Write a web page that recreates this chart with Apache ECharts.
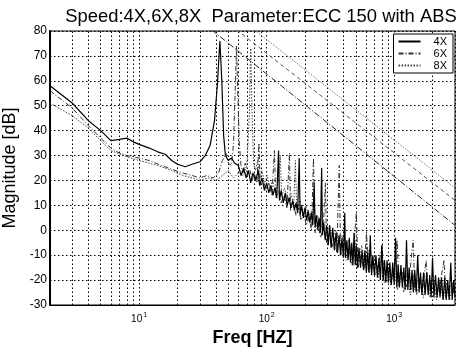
<!DOCTYPE html>
<html>
<head>
<meta charset="utf-8">
<script src="https://cdn.jsdelivr.net/npm/echarts@6/dist/echarts.min.js"></script>
<style>
  html, body { margin: 0; background: #fff; }
  #chart { width: 459px; height: 347px; }
</style>
</head>
<body>
<div id="chart"></div>
<script>
// [freq Hz, magnitude dB]
var spec4X = [
  [2, 58], [3, 51], [4, 44], [5, 40], [6, 36], [7, 36.5], [8, 37], [9, 35.5], [10, 34.5], [12, 33],
  [14, 31.5], [16, 30.5], [18, 28], [20, 26.5], [23, 25.5], [26, 26.5], [30, 27.5], [33, 30], [36, 34],
  [39, 44], [41, 58], [43, 76], [44.5, 60], [46, 38], [47.5, 30], [50, 28], [53, 29], [56, 27],
  [60, 26], [63, 22], [66, 25], [69, 21], [72, 24], [75, 19], [78, 23], [82, 20], [86, 24], [88, 18],
  [92, 21], [96, 16], [100, 19], [104, 15], [108, 18], [112, 14], [116, 17], [120, 13], [124, 32], [126, 12],
  [130, 16], [135, 11], [140, 15], [145, 10], [150, 13], [155, 9], [160, 12], [165, 8], [170, 11], [175, 7],
  [180, 29], [183, 6], [188, 10], [194, 5], [200, 9], [206, 4], [212, 8], [218, 3], [224, 7], [230, 2],
  [236, 19], [240, 1], [246, 6], [252, 0], [258, 5], [264, -1], [270, 25], [274, -2], [280, 3], [288, -4],
  [296, 2], [304, -6], [312, 2], [320, -7], [330, 1], [340, -8], [350, -1], [360, -9], [370, -2], [380, -10],
  [390, -3], [400, -11], [410, 7], [415, -11], [425, -4], [435, -12], [445, -3], [455, -13], [465, -5], [475, -14],
  [485, -1], [495, -14], [505, -6], [515, -15], [530, -7], [545, -15], [560, -8], [575, -16], [590, -8], [605, -17],
  [620, -9], [635, -17], [650, -2], [665, -18], [680, -10], [700, -18], [720, -10], [740, -19], [760, -11], [780, -20],
  [800, -6], [820, -20], [840, -12], [860, -21], [880, -12], [900, -21], [925, -13], [950, -22], [975, -13], [1000, -22],
  [1025, -3], [1050, -23], [1075, -14], [1100, -23], [1130, -14], [1160, -23], [1190, -15], [1220, -24], [1250, -4], [1280, -24],
  [1310, -15], [1345, -24], [1380, -16], [1415, -25], [1450, -16], [1490, -25], [1530, -10], [1570, -25], [1610, -17], [1650, -26],
  [1700, -17], [1750, -26], [1800, -17], [1850, -26], [1900, -18], [1950, -27], [2000, -11], [2050, -27], [2110, -18], [2170, -27],
  [2230, -19], [2290, -27], [2350, -19], [2420, -28], [2490, -19], [2560, -28], [2630, -20], [2700, -28], [2780, -13], [2850, -28],
  [2930, -20], [3000, -27]
];
var spec6X = [
  [2, 56], [3, 49], [4, 42], [5, 37], [6, 33], [7, 31], [8, 30], [10, 29], [12, 28], [15, 26],
  [18, 24.5], [22, 23], [26, 22], [30, 21], [34, 22], [38, 21], [42, 23], [45, 28], [48, 31], [50, 27],
  [53, 26], [55, 35], [57, 60], [58, 74], [59, 60], [61, 35], [63, 26], [65, 23], [68, 27], [71, 22],
  [74, 24], [77, 20], [80, 23], [84, 19], [87, 35], [89, 18], [94, 20], [99, 16], [104, 19], [110, 14],
  [115, 32], [118, 13], [124, 16], [130, 11], [137, 14], [144, 9], [151, 31], [154, 8], [162, 11], [170, 6],
  [178, 9], [186, 4], [195, 7], [205, 2], [215, 5], [225, 0], [233, 29], [240, -1], [252, 3], [265, -3],
  [278, 1], [289, 19], [295, -5], [310, -1], [325, -7], [340, -3], [355, -9], [371, 26], [380, -10], [400, -6],
  [420, -12], [445, -8], [470, -14], [505, 7], [520, -15], [550, -10], [580, -16], [607, -1], [630, -17], [670, -12],
  [710, -18], [760, -13], [806, -6], [830, -19], [880, -15], [940, -21], [1000, -16], [1055, -4], [1090, -22], [1160, -17],
  [1240, -23], [1320, -18], [1410, -4], [1450, -24], [1550, -19], [1660, -25], [1780, -12], [1850, -25], [1980, -20], [2150, -26],
  [2300, -21], [2460, -12], [2550, -27], [2750, -22], [3000, -26]
];
var spec8X = [
  [2, 51], [3, 46], [4, 41], [5, 36], [6, 32], [8, 29.5], [10, 28], [14, 26], [18, 24], [22, 22],
  [26, 21], [30, 20], [35, 21], [40, 20], [45, 22], [50, 24], [55, 21], [60, 23], [65, 22], [70, 26],
  [73, 45], [75, 73], [77, 45], [79, 27], [82, 24], [85, 28], [88, 21], [92, 24], [96, 19], [101, 22],
  [106, 17], [111, 20], [117, 15], [122, 18], [128, 30], [131, 14], [138, 17], [146, 12], [155, 15], [163, 10],
  [168, 28], [172, 9], [182, 12], [192, 7], [203, 10], [214, 5], [226, 8], [238, 3], [251, 6], [265, 1],
  [280, 4], [296, -1], [312, 2], [330, -3], [350, 0], [370, -5], [392, -2], [415, -7], [440, -4], [468, -9],
  [495, -4], [525, -13], [556, -6], [590, -15], [625, -8], [663, -17], [703, -10], [745, -19], [790, -12], [838, -21],
  [888, -14], [942, -22], [1000, -15], [1060, -24], [1125, -16], [1190, -25], [1262, -17], [1340, -26], [1420, -18], [1505, -26],
  [1600, -19], [1695, -27], [1800, -19], [1910, -27], [2025, -20], [2150, -28], [2280, -20], [2420, -28], [2570, -21], [2720, -28],
  [2880, -21], [3000, -27]
];
// straight wrap-around segments across the upper right
var diag4X = [[37, 80.5], [3000, 2]];
var diag6X = [[58, 80.5], [3000, 12]];
var diag8X = [[80, 80.5], [3000, 17]];

var yTicks = [-30, -20, -10, 0, 10, 20, 30, 40, 50, 60, 70, 80];
// matlab style log grid between decades
var minorGridF = [3, 4, 5, 6, 7, 8, 9, 20, 30, 40, 50, 60, 70, 80, 90, 200, 300, 400, 500, 600, 700, 800, 900, 2000];

var FONT = 'Liberation Sans';
var gridDot = { color: '#000', width: 1, type: [1.5, 2.5] };

var chart = echarts.init(document.getElementById('chart'), null, { renderer: 'canvas' });

function lineSeries (name, data, color, type) {
  return {
    name: name,
    type: 'line',
    data: data,
    showSymbol: false,
    symbol: 'none',
    clip: true,
    lineStyle: { color: color, width: 1, type: type },
    itemStyle: { color: color },
    emphasis: { disabled: true }
  };
}

var s4 = lineSeries('4X', spec4X, '#000', 'solid');
s4.z = 4;
s4.lineStyle.width = 1.2;
s4.markLine = {
  silent: true,
  symbol: 'none',
  z: 1,
  label: { show: false },
  lineStyle: gridDot,
  data: minorGridF.map(function (f) { return { xAxis: f }; })
};

var option = {
  animation: false,
  backgroundColor: '#fff',
  title: {
    text: 'Speed:4X,6X,8X  Parameter:ECC 150 with ABS',
    left: 256,
    textAlign: 'center',
    top: 3,
    textStyle: { fontFamily: FONT, fontSize: 18.4, fontWeight: 'normal', color: '#000' }
  },
  legend: {
    data: ['4X', '6X', '8X'],
    orient: 'vertical',
    right: 6,
    top: 34,
    itemWidth: 22,
    itemHeight: 8,
    itemGap: 1,
    padding: [2, 6, 2, 4],
    backgroundColor: '#fff',
    borderColor: '#000',
    borderWidth: 1,
    itemStyle: { opacity: 0 },
    textStyle: { fontFamily: FONT, fontSize: 11, lineHeight: 9, color: '#000', padding: [0, 0, 0, 8] }
  },
  grid: {
    left: 50, right: 4, top: 31, bottom: 42,
    outerBoundsMode: 'none',
    show: true, borderColor: '#000', borderWidth: 1
  },
  xAxis: {
    type: 'log',
    logBase: 10,
    min: 2,
    max: 3000,
    name: 'Freq [HZ]',
    nameLocation: 'middle',
    nameGap: 22,
    nameTextStyle: { fontFamily: FONT, fontSize: 18, fontWeight: 'bold', color: '#000' },
    axisLine: { show: true, onZero: false, lineStyle: { color: '#000', width: 1 } },
    axisTick: { show: false },
    splitLine: { show: true, lineStyle: gridDot },
    axisLabel: {
      showMinLabel: false,
      showMaxLabel: false,
      margin: 7,
      fontFamily: FONT,
      fontSize: 10,
      color: '#000',
      formatter: function (v) {
        var p = Math.log10(v);
        if (Math.abs(p - Math.round(p)) > 1e-6) return '';
        return '10{sup|' + Math.round(p) + '}';
      },
      rich: {
        sup: { fontSize: 7, verticalAlign: 'top', padding: [0, 0, 7, 1], fontFamily: FONT, color: '#000' }
      }
    }
  },
  yAxis: {
    type: 'value',
    min: yTicks[0],
    max: yTicks[yTicks.length - 1],
    interval: 10,
    name: 'Magnitude [dB]',
    nameLocation: 'middle',
    nameGap: 24,
    nameTextStyle: { fontFamily: FONT, fontSize: 18, color: '#000' },
    axisLine: { show: true, onZero: false, lineStyle: { color: '#000', width: 2 } },
    axisTick: { show: false },
    splitLine: { show: true, lineStyle: gridDot },
    axisLabel: { margin: 3, fontFamily: FONT, fontSize: 12, color: '#000' }
  },
  series: [
    s4,
    lineSeries('6X', spec6X, '#333', [5, 2, 1, 2]),
    lineSeries('8X', spec8X, '#444', [1.5, 1.5]),
    lineSeries('4X', diag4X, '#222', [6, 2, 1, 2]),
    lineSeries('6X', diag6X, '#555', [4, 3]),
    lineSeries('8X', diag8X, '#777', [1.5, 1.5])
  ]
};

chart.setOption(option);
</script>
</body>
</html>
